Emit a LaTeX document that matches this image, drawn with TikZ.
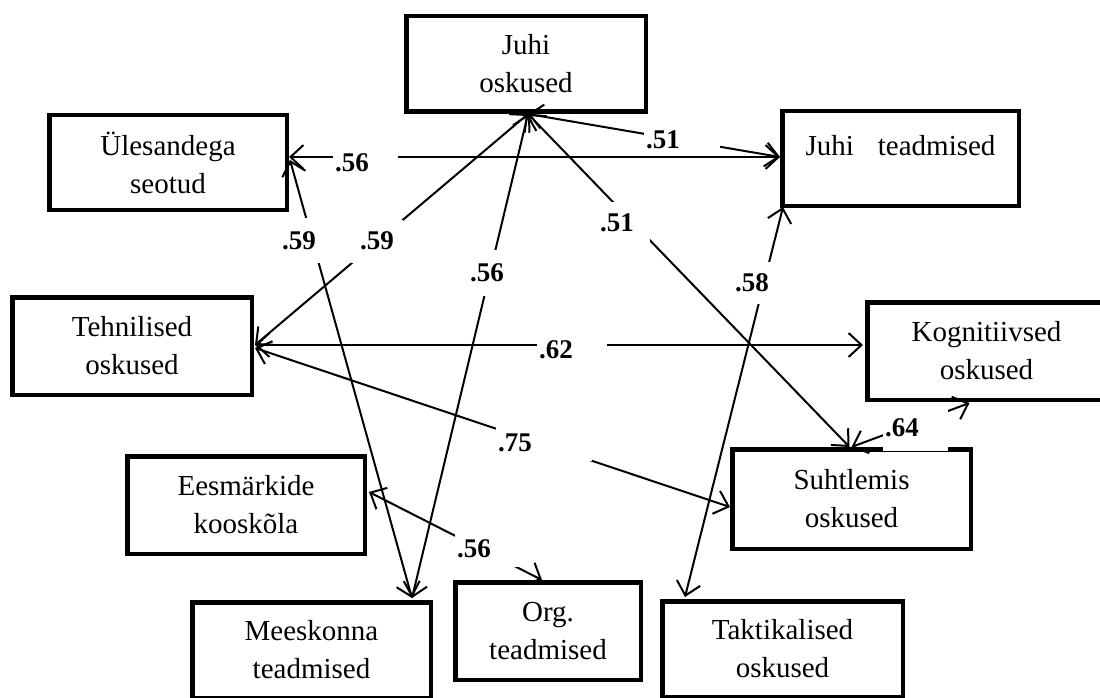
\documentclass[tikz,border=0pt]{standalone}
\usepackage{fontspec}
\setmainfont{Liberation Serif}
\usetikzlibrary{arrows.meta,calc}
\begin{document}
\begin{tikzpicture}[x=1pt,y=-1pt,
  >={Straight Barb[length=13pt,width=24pt]},
  box/.style={draw, line width=4.5pt, align=center, inner sep=0pt,
    font=\fontsize{29}{38}\selectfont},
  conn/.style={<->, line width=2pt},
  lbl/.style={fill=white, inner sep=2pt, align=left,
    font=\fontsize{27}{30}\selectfont\bfseries}]

\useasboundingbox (0,0) rectangle (1100,698);
\clip (0,0) rectangle (1100,698);
\fill[white] (0,0) rectangle (1100,698);

% skill and knowledge boxes
\node[box, minimum width=239.5pt, minimum height=95.5pt] (juhiosk) at (526,64) {Juhi\\oskused};
\node[box, minimum width=237.5pt, minimum height=94.5pt] (yles) at (168,162.5) {Ülesandega\\seotud};
\node[box, minimum width=236.5pt, minimum height=94.5pt, text height=20pt, text depth=27pt]
  (juhitead) at (900.5,158.5) {Juhi\hspace{24pt}teadmised};
\node[box, minimum width=239.5pt, minimum height=97.5pt] (tehn) at (132,346) {Tehnilised\\oskused};
\node[box, minimum width=238.5pt, minimum height=97.5pt] (kogn) at (986.5,351) {Kognitiivsed\\oskused};
\node[box, minimum width=237.5pt, minimum height=97.5pt] (eesm) at (246,505) {Eesmärkide\\kooskõla};
\node[box, minimum width=238.5pt, minimum height=99.5pt] (suht) at (851.5,499) {Suhtlemis\\oskused};
\node[box, minimum width=238.5pt, minimum height=95.5pt] (mees) at (311.5,650) {Meeskonna\\teadmised};
\node[box, minimum width=185.5pt, minimum height=97.5pt] (org) at (548,631) {Org.\\teadmised};
\node[box, minimum width=240.5pt, minimum height=95.5pt] (takt) at (782.5,649) {Taktikalised\\oskused};

% correlations
\draw[conn] ($(yles.east)+(0,-5.5)$) -- ($(juhitead.west)+(0,-1.5)$)
  node[lbl, text width=61pt] at (365.5,163) {.56};
\draw[conn] ($(juhiosk.south)+(2,0)$) -- ($(juhitead.west)+(0,-1.5)$)
  node[lbl, text width=72pt] at (682,140) {.51};
\draw[conn] ($(juhiosk.south)+(2,0)$) -- ($(tehn.east)+(1,-1)$)
  node[lbl, minimum width=52pt, minimum height=43pt] at (377,241) {.59};
\draw[conn] ($(juhiosk.south)+(2,0)$) -- ($(mees.north)+(100.5,-2)$)
  node[lbl, minimum width=44pt, minimum height=46pt] at (487,273) {.56};
\draw[conn] ($(juhiosk.south)+(2,0)$) -- ($(suht.north)+(-2,0)$)
  node[lbl, text width=48pt, minimum height=42pt] at (624,223) {.51};
\draw[conn] ($(yles.east)+(1,-2.5)$) -- ($(mees.north)+(100.5,-2)$)
  node[lbl, minimum width=46pt, minimum height=45pt] at (299,240.5) {.59};
\draw[conn] ($(tehn.east)+(1,-1)$) -- ($(kogn.west)+(-2,-6)$)
  node[lbl, text width=66pt] at (572,350) {.62};
\draw[conn] ($(tehn.east)+(1,2)$) -- ($(suht.west)+(0,8)$)
  node[lbl, text width=92pt, minimum height=36pt] at (544,443) {.75};
\draw[conn] ($(juhitead.south west)+(3,-1)$) -- ($(takt.north west)+(25,-2)$)
  node[lbl, minimum width=42pt, minimum height=42pt] at (752,283) {.58};
\draw[conn] (suht.north) -- ($(kogn.south)+(-17,1)$)
  node[lbl, text width=61pt, minimum height=46pt] at (915.5,428) {.64};
\draw[conn] ($(eesm.east)+(2,-13)$) -- ($(org.north)+(-6,0)$)
  node[lbl, text width=62pt, minimum height=36pt] at (488,549) {.56};

\end{tikzpicture}
\end{document}
